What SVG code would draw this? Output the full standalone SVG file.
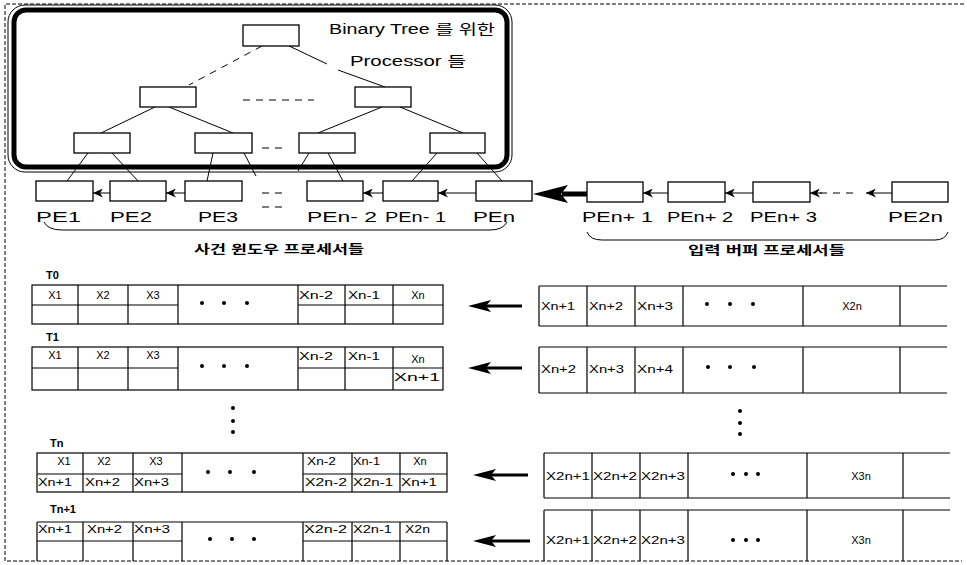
<svg xmlns="http://www.w3.org/2000/svg" width="967" height="565" viewBox="0 0 967 565">
<style>
.bx{fill:#fff;stroke:#000;stroke-width:1.3}
.ln{stroke:#000;stroke-width:1;fill:none}
.tl{stroke:#000;stroke-width:1.2;fill:none}
.dsh{stroke:#000;stroke-width:1;stroke-dasharray:7,6;fill:none}
.pe{font-family:"Liberation Sans",Arial,sans-serif;font-size:15px;fill:#000}
.c{font-family:"Liberation Sans",Arial,sans-serif;font-size:11px;fill:#000}
.t{font-family:"Liberation Sans",Arial,sans-serif;font-size:11px;font-weight:bold;fill:#000}
.ko{font-family:"Liberation Sans","Noto Sans CJK KR",sans-serif;font-size:12px;font-weight:bold;fill:#000}
.ti{font-family:"Liberation Sans","Noto Sans CJK KR",sans-serif;font-size:14px;fill:#000}
.dot{fill:#000}
</style>
<defs>
<marker id="ah" markerUnits="userSpaceOnUse" markerWidth="11" markerHeight="9" refX="10" refY="4.5" orient="auto" viewBox="0 0 11 9">
<path d="M0,0 L10,4.5 L0,9 L3,4.5 z" fill="#000"/>
</marker>
</defs>
<rect width="967" height="565" fill="#fff"/>
<!-- outer dashed frame -->
<path d="M964,4 L5,4 L5,561 L962,561" fill="none" stroke="#000" stroke-width="1" stroke-dasharray="4,2"/>
<!-- binary tree enclosure -->
<g id="tree-frame">
<rect x="8" y="5" width="504" height="167" rx="17" fill="none" stroke="#000" stroke-width="1"/>
<rect x="14" y="10" width="493" height="157" rx="12" fill="none" stroke="#000" stroke-width="5"/>
<text class="ti" x="329" y="34" textLength="166" lengthAdjust="spacingAndGlyphs">Binary Tree 를 위한</text>
<text class="ti" x="350" y="66" textLength="116" lengthAdjust="spacingAndGlyphs">Processor 들</text>
</g>
<g id="connectors">
<line class="dsh" x1="262" y1="46" x2="189" y2="85"/>
<path class="ln" d="M287,45 L327,64 M338,70 L385,87" />
<line class="dsh" x1="243" y1="100" x2="314" y2="100"/>
<line class="ln" x1="155" y1="107" x2="101" y2="133"/>
<line class="ln" x1="169" y1="107" x2="233" y2="133"/>
<line class="ln" x1="382" y1="107" x2="318" y2="133"/>
<line class="ln" x1="400" y1="107" x2="463" y2="133"/>
<line class="dsh" x1="262" y1="148" x2="284" y2="148"/>
<line class="ln" x1="88" y1="153" x2="67" y2="181"/>
<line class="ln" x1="112" y1="153" x2="138" y2="181"/>
<line class="ln" x1="213" y1="153" x2="207" y2="181"/>
<line class="ln" x1="244" y1="153" x2="256" y2="176"/>
<line class="ln" x1="309" y1="153" x2="298" y2="171"/>
<line class="ln" x1="328" y1="153" x2="343" y2="181"/>
<line class="ln" x1="437" y1="153" x2="412" y2="181"/>
<line class="ln" x1="477" y1="153" x2="502" y2="181"/>
<line class="ln" x1="110" y1="193" x2="93" y2="193" marker-end="url(#ah)"/>
<line class="ln" x1="185" y1="193" x2="166" y2="193" marker-end="url(#ah)"/>
<path class="dsh" d="M262,193 L283,193 M262,207 L283,207"/>
<line class="ln" x1="383" y1="193" x2="363" y2="193" marker-end="url(#ah)"/>
<line class="ln" x1="476" y1="193" x2="438" y2="193" marker-end="url(#ah)"/>
<line x1="562" y1="194" x2="587" y2="194" stroke="#000" stroke-width="5"/>
<polygon points="533,194 568,185 561,194 568,203" fill="#000"/>
<line class="ln" x1="668" y1="193" x2="643" y2="193" marker-end="url(#ah)"/>
<line class="ln" x1="753" y1="193" x2="725" y2="193" marker-end="url(#ah)"/>
<line class="dsh" x1="820" y1="193" x2="856" y2="193"/>
<line class="ln" x1="822" y1="193" x2="810" y2="193" marker-end="url(#ah)"/>
<line class="ln" x1="892" y1="193" x2="866" y2="193" marker-end="url(#ah)"/>
<!-- table arrows -->
<line x1="486" y1="306" x2="522" y2="306" stroke="#000" stroke-width="3"/>
<polygon points="468,306 491,300 486,306 491,312" fill="#000"/>
<line x1="486" y1="368" x2="522" y2="368" stroke="#000" stroke-width="3"/>
<polygon points="468,368 491,362 486,368 491,374" fill="#000"/>
<line x1="491" y1="475" x2="528" y2="475" stroke="#000" stroke-width="3"/>
<polygon points="473,475 496,469 491,475 496,481" fill="#000"/>
<line x1="491" y1="541" x2="530" y2="541" stroke="#000" stroke-width="3"/>
<polygon points="473,541 496,535 491,541 496,547" fill="#000"/>
</g>
<!-- tree nodes -->
<g id="tree-root"><rect class="bx" x="243" y="25" width="56" height="21"/></g>
<g id="tree-l2a"><rect class="bx" x="140" y="87" width="56" height="20"/></g>
<g id="tree-l2b"><rect class="bx" x="355" y="87" width="56" height="20"/></g>
<g id="tree-l3a"><rect class="bx" x="74" y="133" width="56" height="20"/></g>
<g id="tree-l3b"><rect class="bx" x="195" y="133" width="57" height="20"/></g>
<g id="tree-l3c"><rect class="bx" x="299" y="133" width="56" height="20"/></g>
<g id="tree-l3d"><rect class="bx" x="430" y="133" width="55" height="20"/></g>
<!-- PE nodes -->
<g id="pe1"><rect class="bx" x="36" y="181" width="57" height="20"/><text class="pe" x="36" y="222" textLength="45" lengthAdjust="spacingAndGlyphs">PE1</text></g>
<g id="pe2"><rect class="bx" x="110" y="181" width="56" height="20"/><text class="pe" x="110" y="222" textLength="42" lengthAdjust="spacingAndGlyphs">PE2</text></g>
<g id="pe3"><rect class="bx" x="185" y="181" width="57" height="20"/><text class="pe" x="198" y="222" textLength="40" lengthAdjust="spacingAndGlyphs">PE3</text></g>
<g id="pen-2"><rect class="bx" x="307" y="181" width="56" height="20"/><text class="pe" x="307" y="222" textLength="70" lengthAdjust="spacingAndGlyphs">PEn- 2</text></g>
<g id="pen-1"><rect class="bx" x="383" y="181" width="55" height="20"/><text class="pe" x="385" y="222" textLength="61" lengthAdjust="spacingAndGlyphs">PEn- 1</text></g>
<g id="pen"><rect class="bx" x="476" y="181" width="56" height="20"/><text class="pe" x="473" y="222" textLength="42" lengthAdjust="spacingAndGlyphs">PEn</text></g>
<g id="pen+1"><rect class="bx" x="587" y="182" width="56" height="20"/><text class="pe" x="582" y="222" textLength="71" lengthAdjust="spacingAndGlyphs">PEn+ 1</text></g>
<g id="pen+2"><rect class="bx" x="668" y="182" width="57" height="20"/><text class="pe" x="667" y="222" textLength="66" lengthAdjust="spacingAndGlyphs">PEn+ 2</text></g>
<g id="pen+3"><rect class="bx" x="753" y="182" width="57" height="20"/><text class="pe" x="750" y="222" textLength="67" lengthAdjust="spacingAndGlyphs">PEn+ 3</text></g>
<g id="pe2n"><rect class="bx" x="892" y="182" width="56" height="20"/><text class="pe" x="888" y="222" textLength="55" lengthAdjust="spacingAndGlyphs">PE2n</text></g>
<!-- braces -->
<g id="brace-window">
<path class="ln" d="M44,222 Q48,230 62,230 L490,230 Q503,230 507,222"/>
<text class="ko" x="194" y="254" textLength="170" lengthAdjust="spacingAndGlyphs">사건 윈도우 프로세서들</text>
</g>
<g id="brace-input">
<path class="ln" d="M587,232 Q590,240 602,240 L935,240 Q945,240 948,232"/>
<text class="ko" x="688" y="255" textLength="157" lengthAdjust="spacingAndGlyphs">입력 버퍼 프로세서들</text>
</g>
<!-- T0 -->
<g id="t0">
<text class="t" x="46" y="279">T0</text>
<rect class="tl" x="32" y="285" width="411" height="39"/>
<path class="tl" d="M78,285V324M128,285V324M178,285V324M298,285V324M345,285V324M393,285V324M32,305H178M298,305H443"/>
<text class="c" x="55" y="299" text-anchor="middle">X1</text>
<text class="c" x="103" y="299" text-anchor="middle">X2</text>
<text class="c" x="153" y="299" text-anchor="middle">X3</text>
<text class="c" x="299" y="299" textLength="34" lengthAdjust="spacingAndGlyphs">Xn-2</text>
<text class="c" x="348" y="299" textLength="32" lengthAdjust="spacingAndGlyphs">Xn-1</text>
<text class="c" x="418" y="299" text-anchor="middle">Xn</text>
<circle class="dot" cx="202" cy="303" r="2"/><circle class="dot" cx="224" cy="303" r="2"/><circle class="dot" cx="247" cy="303" r="2"/>
</g>
<g id="t0-in">
<path class="tl" d="M539,286H947M539,326H947M539,286V326M587,286V326M635,286V326M683,286V326M803,286V326M900,286V326"/>
<text class="c" x="541" y="310" textLength="34" lengthAdjust="spacingAndGlyphs">Xn+1</text>
<text class="c" x="589" y="310" textLength="34" lengthAdjust="spacingAndGlyphs">Xn+2</text>
<text class="c" x="637" y="310" textLength="36" lengthAdjust="spacingAndGlyphs">Xn+3</text>
<text class="c" x="852" y="310" text-anchor="middle">X2n</text>
<circle class="dot" cx="707" cy="304" r="2"/><circle class="dot" cx="730" cy="304" r="2"/><circle class="dot" cx="753" cy="304" r="2"/>
</g>
<!-- T1 -->
<g id="t1">
<text class="t" x="46" y="341">T1</text>
<rect class="tl" x="32" y="347" width="411" height="43"/>
<path class="tl" d="M78,347V390M128,347V390M178,347V390M298,347V390M345,347V390M393,347V390M32,368H178M298,368H443"/>
<text class="c" x="55" y="359" text-anchor="middle">X1</text>
<text class="c" x="103" y="359" text-anchor="middle">X2</text>
<text class="c" x="153" y="359" text-anchor="middle">X3</text>
<text class="c" x="299" y="360" textLength="34" lengthAdjust="spacingAndGlyphs">Xn-2</text>
<text class="c" x="348" y="360" textLength="32" lengthAdjust="spacingAndGlyphs">Xn-1</text>
<text class="c" x="418" y="363" text-anchor="middle">Xn</text>
<text class="c" x="394" y="381" textLength="46" lengthAdjust="spacingAndGlyphs">Xn+1</text>
<circle class="dot" cx="202" cy="366" r="2"/><circle class="dot" cx="224" cy="366" r="2"/><circle class="dot" cx="247" cy="366" r="2"/>
</g>
<g id="t1-in">
<path class="tl" d="M539,347H947M539,393H947M539,347V393M587,347V393M635,347V393M683,347V393M803,347V393M900,347V393"/>
<text class="c" x="541" y="373" textLength="35" lengthAdjust="spacingAndGlyphs">Xn+2</text>
<text class="c" x="589" y="373" textLength="35" lengthAdjust="spacingAndGlyphs">Xn+3</text>
<text class="c" x="637" y="373" textLength="36" lengthAdjust="spacingAndGlyphs">Xn+4</text>
<circle class="dot" cx="708" cy="367" r="2"/><circle class="dot" cx="730" cy="367" r="2"/><circle class="dot" cx="754" cy="367" r="2"/>
</g>
<!-- vertical ellipses -->
<g id="vdots">
<circle class="dot" cx="233" cy="408" r="2"/><circle class="dot" cx="233" cy="421" r="2"/><circle class="dot" cx="233" cy="432" r="2"/>
<circle class="dot" cx="740" cy="411" r="2"/><circle class="dot" cx="740" cy="423" r="2"/><circle class="dot" cx="740" cy="434" r="2"/>
</g>
<!-- Tn -->
<g id="tn">
<text class="t" x="50" y="447">Tn</text>
<rect class="tl" x="37" y="453" width="410" height="39"/>
<path class="tl" d="M83,453V492M133,453V492M182,453V492M303,453V492M352,453V492M400,453V492M37,474H182M303,474H447"/>
<text class="c" x="64" y="465" text-anchor="middle">X1</text>
<text class="c" x="104" y="465" text-anchor="middle">X2</text>
<text class="c" x="156" y="465" text-anchor="middle">X3</text>
<text class="c" x="307" y="465" textLength="29" lengthAdjust="spacingAndGlyphs">Xn-2</text>
<text class="c" x="353" y="465" textLength="27" lengthAdjust="spacingAndGlyphs">Xn-1</text>
<text class="c" x="420" y="465" text-anchor="middle">Xn</text>
<text class="c" x="38" y="486" textLength="34" lengthAdjust="spacingAndGlyphs">Xn+1</text>
<text class="c" x="85" y="486" textLength="35" lengthAdjust="spacingAndGlyphs">Xn+2</text>
<text class="c" x="134" y="486" textLength="35" lengthAdjust="spacingAndGlyphs">Xn+3</text>
<text class="c" x="305" y="486" textLength="42" lengthAdjust="spacingAndGlyphs">X2n-2</text>
<text class="c" x="353" y="486" textLength="40" lengthAdjust="spacingAndGlyphs">X2n-1</text>
<text class="c" x="401" y="486" textLength="36" lengthAdjust="spacingAndGlyphs">Xn+1</text>
<circle class="dot" cx="208" cy="472" r="2"/><circle class="dot" cx="230" cy="472" r="2"/><circle class="dot" cx="254" cy="472" r="2"/>
</g>
<g id="tn-in">
<path class="tl" d="M544,453H950M544,498H950M544,453V498M592,453V498M640,453V498M688,453V498M807,453V498M903,453V498"/>
<text class="c" x="546" y="480" textLength="44" lengthAdjust="spacingAndGlyphs">X2n+1</text>
<text class="c" x="593" y="480" textLength="44" lengthAdjust="spacingAndGlyphs">X2n+2</text>
<text class="c" x="641" y="480" textLength="44" lengthAdjust="spacingAndGlyphs">X2n+3</text>
<text class="c" x="861" y="480" text-anchor="middle">X3n</text>
<circle class="dot" cx="733" cy="474" r="2"/><circle class="dot" cx="746" cy="474" r="2"/><circle class="dot" cx="758" cy="474" r="2"/>
</g>
<!-- Tn+1 -->
<g id="tn1">
<text class="t" x="50" y="513">Tn+1</text>
<path class="tl" d="M37,522H447M37,522V561M447,522V561M83,522V561M133,522V561M182,522V561M303,522V561M352,522V561M400,522V561M37,541H182M303,541H447"/>
<text class="c" x="38" y="533" textLength="34" lengthAdjust="spacingAndGlyphs">Xn+1</text>
<text class="c" x="87" y="533" textLength="35" lengthAdjust="spacingAndGlyphs">Xn+2</text>
<text class="c" x="134" y="533" textLength="36" lengthAdjust="spacingAndGlyphs">Xn+3</text>
<text class="c" x="304" y="533" textLength="43" lengthAdjust="spacingAndGlyphs">X2n-2</text>
<text class="c" x="353" y="533" textLength="39" lengthAdjust="spacingAndGlyphs">X2n-1</text>
<text class="c" x="405" y="533" textLength="25" lengthAdjust="spacingAndGlyphs">X2n</text>
<circle class="dot" cx="210" cy="539" r="2"/><circle class="dot" cx="232" cy="539" r="2"/><circle class="dot" cx="254" cy="539" r="2"/>
</g>
<g id="tn1-in">
<path class="tl" d="M544,510H950M544,510V561M592,510V561M640,510V561M688,510V561M807,510V561M903,510V561"/>
<text class="c" x="546" y="544" textLength="44" lengthAdjust="spacingAndGlyphs">X2n+1</text>
<text class="c" x="593" y="544" textLength="44" lengthAdjust="spacingAndGlyphs">X2n+2</text>
<text class="c" x="641" y="544" textLength="44" lengthAdjust="spacingAndGlyphs">X2n+3</text>
<text class="c" x="861" y="544" text-anchor="middle">X3n</text>
<circle class="dot" cx="733" cy="540" r="2"/><circle class="dot" cx="746" cy="540" r="2"/><circle class="dot" cx="758" cy="540" r="2"/>
</g>
</svg>
